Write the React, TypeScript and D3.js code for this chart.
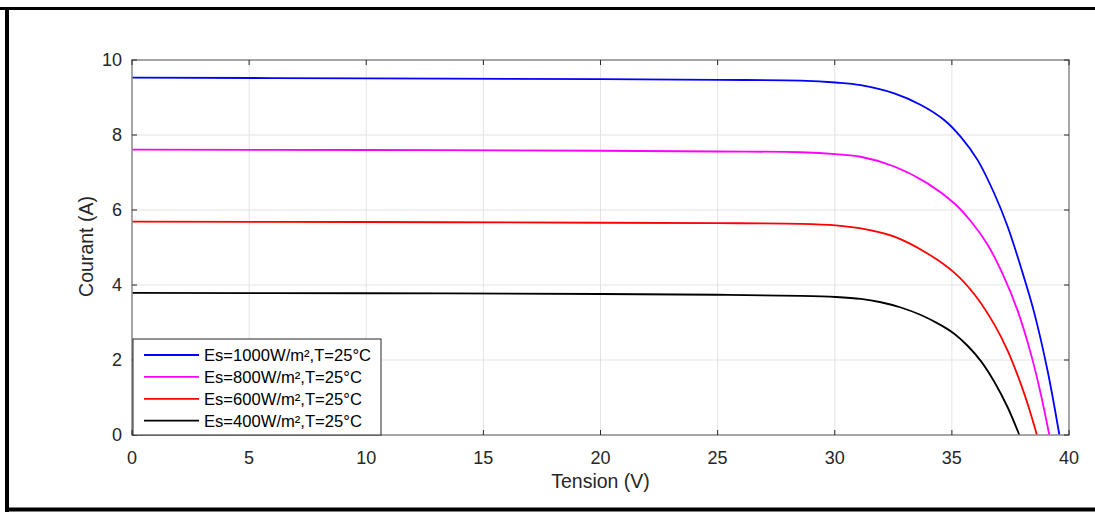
import React from 'react';
import * as d3 from 'd3';

// I-V curves of a PV module at 25°C
const voltages1000 = [0, 10, 20, 25, 28.55, 30.04, 31.11, 32.54, 33.68, 34.67, 35.38, 36.1, 36.81, 37.38, 38.09, 38.52, 39.09, 39.59];
const currents1000 = [9.53, 9.51, 9.49, 9.47, 9.45, 9.4, 9.33, 9.11, 8.8, 8.4, 7.95, 7.33, 6.44, 5.56, 4.18, 3.25, 1.7, 0];

const voltages800 = [0, 10, 20, 25, 28.55, 30.04, 31.11, 32.54, 33.96, 35.1, 35.81, 36.52, 37.2, 37.8, 38.38, 38.8, 39.16];
const currents800 = [7.61, 7.6, 7.58, 7.56, 7.54, 7.49, 7.42, 7.16, 6.71, 6.18, 5.7, 5.08, 4.25, 3.33, 2.15, 1.08, 0];

const voltages600 = [0, 10, 20, 25, 28.55, 30.04, 31.11, 32.54, 33.96, 35.1, 35.95, 36.81, 37.38, 37.95, 38.3, 38.63];
const currents600 = [5.69, 5.68, 5.66, 5.65, 5.63, 5.59, 5.51, 5.29, 4.84, 4.33, 3.76, 2.95, 2.25, 1.35, 0.7, 0];

const voltages400 = [0, 10, 20, 25, 28.55, 30.04, 31.11, 31.97, 32.82, 33.68, 34.53, 35.1, 35.67, 36.24, 36.81, 37.38, 37.88];
const currents400 = [3.79, 3.78, 3.76, 3.74, 3.71, 3.68, 3.63, 3.54, 3.4, 3.2, 2.93, 2.7, 2.38, 1.97, 1.42, 0.74, 0];

const seriesNames = [
  'Es=1000W/m²,T=25°C',
  'Es=800W/m²,T=25°C',
  'Es=600W/m²,T=25°C',
  'Es=400W/m²,T=25°C',
];
const seriesColors = ['#0000ff', '#ff00ff', '#ff0000', '#000000'];

const xTicks = [0, 5, 10, 15, 20, 25, 30, 35, 40];
const yTicks = [0, 2, 4, 6, 8, 10];

const W = 1095;
const H = 512;
const margin = { top: 60, right: 26, bottom: 77, left: 132 };
const FONT = '"Liberation Sans", Arial, Helvetica, sans-serif';

const App: React.FC = () => {
  const innerW = W - margin.left - margin.right;
  const innerH = H - margin.top - margin.bottom;

  const x = d3.scaleLinear().domain([0, 40]).range([0, innerW]);
  const y = d3.scaleLinear().domain([0, 10]).range([innerH, 0]);

  const series = [
    { v: voltages1000, i: currents1000 },
    { v: voltages800, i: currents800 },
    { v: voltages600, i: currents600 },
    { v: voltages400, i: currents400 },
  ].map((s, k) => ({
    name: seriesNames[k],
    color: seriesColors[k],
    points: s.v.map((v, j) => [v, s.i[j]] as [number, number]),
  }));

  const line = d3
    .line<[number, number]>()
    .x(d => x(d[0]))
    .y(d => y(d[1]))
    .curve(d3.curveCatmullRom.alpha(0.5));

  const tickLen = 5;
  const axisColor = '#262626';
  const boxColor = '#8c8c8c';

  // legend box
  const lg = { x: 1, y: 279, w: 248, h: 96 };

  return (
    <div style={{ position: 'absolute', left: 0, top: 0 }}>
      <svg width={W} height={H} style={{ display: 'block', background: '#fff' }}>
        {/* outer frame */}
        <line x1={0} y1={8.5} x2={W} y2={8.5} stroke="#000" strokeWidth={3} />
        <line x1={7} y1={7} x2={7} y2={H} stroke="#000" strokeWidth={4} />
        <line x1={5} y1={509.5} x2={W} y2={509.5} stroke="#000" strokeWidth={4} />

        <g transform={`translate(${margin.left},${margin.top})`}>
          {/* grid */}
          {xTicks.map(t => (
            <line key={`gx${t}`} x1={x(t)} x2={x(t)} y1={0} y2={innerH} stroke="#e3e3e3" strokeWidth={1} />
          ))}
          {yTicks.map(t => (
            <line key={`gy${t}`} x1={0} x2={innerW} y1={y(t)} y2={y(t)} stroke="#e3e3e3" strokeWidth={1} />
          ))}

          {/* curves */}
          {series.map(s => (
            <path key={s.name} d={line(s.points) || ''} fill="none" stroke={s.color} strokeWidth={1.8} />
          ))}

          {/* box */}
          <rect x={0} y={0} width={innerW} height={innerH} fill="none" stroke={boxColor} strokeWidth={1.5} />

          {/* ticks */}
          {xTicks.map(t => (
            <g key={`tx${t}`}>
              <line x1={x(t)} x2={x(t)} y1={innerH} y2={innerH - tickLen} stroke={axisColor} />
              <line x1={x(t)} x2={x(t)} y1={0} y2={tickLen} stroke={axisColor} />
              <text
                x={x(t)}
                y={innerH + 29}
                textAnchor="middle"
                fontFamily={FONT}
                fontSize={18}
                fill={axisColor}
              >
                {t}
              </text>
            </g>
          ))}
          {yTicks.map(t => (
            <g key={`ty${t}`}>
              <line x1={0} x2={tickLen} y1={y(t)} y2={y(t)} stroke={axisColor} />
              <line x1={innerW} x2={innerW - tickLen} y1={y(t)} y2={y(t)} stroke={axisColor} />
              <text
                x={-10}
                y={y(t) + 6}
                textAnchor="end"
                fontFamily={FONT}
                fontSize={18}
                fill={axisColor}
              >
                {t}
              </text>
            </g>
          ))}

          {/* axis labels */}
          <text
            x={innerW / 2}
            y={innerH + 53}
            textAnchor="middle"
            fontFamily={FONT}
            fontSize={19.5}
            fill={axisColor}
          >
            Tension (V)
          </text>
          <text
            transform={`translate(-39,${innerH / 2 - 1}) rotate(-90)`}
            textAnchor="middle"
            fontFamily={FONT}
            fontSize={19.5}
            fill={axisColor}
          >
            Courant (A)
          </text>

          {/* legend */}
          <rect x={lg.x} y={lg.y} width={lg.w} height={lg.h} fill="#fff" stroke="#262626" strokeWidth={1} />
          {series.map((s, k) => {
            const ry = lg.y + 16 + k * 21.9;
            return (
              <g key={`lg${k}`}>
                <line x1={12} x2={67} y1={ry} y2={ry} stroke={s.color} strokeWidth={1.8} />
                <text x={72} y={ry + 6} fontFamily={FONT} fontSize={16.6} fill="#000">
                  {s.name}
                </text>
              </g>
            );
          })}
        </g>
      </svg>
    </div>
  );
};

export default App;
